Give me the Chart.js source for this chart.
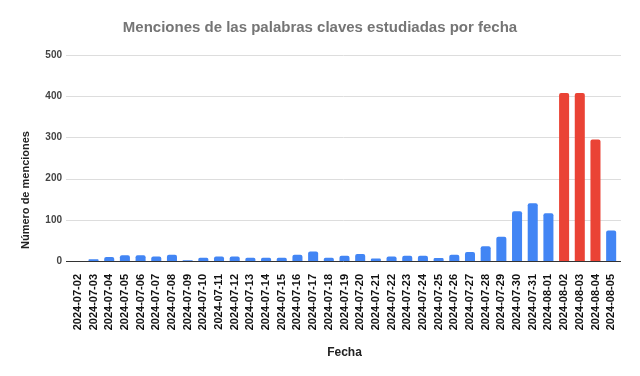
<!DOCTYPE html>
<html>
<head>
<meta charset="utf-8">
<script src="https://cdn.jsdelivr.net/npm/chart.js@4"></script>
<style>
html,body{margin:0;padding:0;background:#fff;}
#wrap{width:640px;height:376px;}
</style>
</head>
<body>
<div id="wrap"><canvas id="c" width="640" height="376"></canvas></div>
<script>
const categories = ['2024-07-02','2024-07-03','2024-07-04','2024-07-05','2024-07-06','2024-07-07','2024-07-08','2024-07-09','2024-07-10','2024-07-11','2024-07-12','2024-07-13','2024-07-14','2024-07-15','2024-07-16','2024-07-17','2024-07-18','2024-07-19','2024-07-20','2024-07-21','2024-07-22','2024-07-23','2024-07-24','2024-07-25','2024-07-26','2024-07-27','2024-07-28','2024-07-29','2024-07-30','2024-07-31','2024-08-01','2024-08-02','2024-08-03','2024-08-04','2024-08-05'];
const menciones = [0,4,10,14,14,11,15,2,8,11,11,8,8,8,15,23,8,13,17,6,11,13,13,7,15,22,36,59,121,140,116,408,408,295,74];
const highlighted = ['2024-08-02','2024-08-03','2024-08-04'];
const yTicks = [0,100,200,300,400,500];

const BLUE = '#4285F4', RED = '#EA4335';
const FONT = "'Liberation Sans', Arial, sans-serif";
const GRID_LEFT = 66, GRID_RIGHT = 621;

const yTitlePlugin = {
  id: 'yTitle',
  afterDraw(chart) {
    const ctx = chart.ctx;
    ctx.save();
    ctx.translate(26, 190);
    ctx.rotate(-Math.PI / 2);
    ctx.font = 'bold 11px ' + FONT;
    ctx.fillStyle = '#222';
    ctx.textAlign = 'center';
    ctx.textBaseline = 'middle';
    ctx.fillText('Número de menciones', 0, 0);
    ctx.restore();
  }
};

const gridPlugin = {
  id: 'wideGrid',
  beforeDatasetsDraw(chart) {
    const ctx = chart.ctx, y = chart.scales.y;
    ctx.save();
    ctx.lineWidth = 1;
    y.ticks.forEach(t => {
      if (t.value === 0) return;
      const py = Math.round(y.getPixelForValue(t.value)) + 0.5;
      ctx.strokeStyle = '#dddddd';
      ctx.beginPath(); ctx.moveTo(GRID_LEFT, py); ctx.lineTo(GRID_RIGHT, py); ctx.stroke();
    });
    ctx.restore();
  },
  afterDatasetsDraw(chart) {
    const ctx = chart.ctx, y = chart.scales.y;
    const py = Math.round(y.getPixelForValue(0)) + 0.5;
    ctx.save();
    ctx.strokeStyle = '#333';
    ctx.lineWidth = 1;
    ctx.beginPath(); ctx.moveTo(GRID_LEFT, py); ctx.lineTo(GRID_RIGHT, py); ctx.stroke();
    ctx.restore();
  }
};

new Chart(document.getElementById('c'), {
  type: 'bar',
  data: {
    labels: categories,
    datasets: [{
      data: menciones,
      backgroundColor: categories.map(c => highlighted.includes(c) ? RED : BLUE),
      barPercentage: 0.64,
      categoryPercentage: 1.0,
      borderRadius: {topLeft: 2, topRight: 2, bottomLeft: 0, bottomRight: 0},
      borderSkipped: 'bottom'
    }]
  },
  options: {
    responsive: false,
    animation: false,
    devicePixelRatio: 1,
    layout: {padding: {left: 0, right: 0, top: 0, bottom: 16}},
    plugins: {
      legend: {display: false},
      tooltip: {enabled: false},
      title: {
        display: true,
        text: 'Menciones de las palabras claves estudiadas por fecha',
        color: '#757575',
        font: {family: FONT, size: 15, weight: 'bold'},
        padding: {top: 19, bottom: 18}
      }
    },
    scales: {
      x: {
        afterFit(scale) { scale.height = 99; },
        grid: {display: false},
        border: {display: false},
        ticks: {
          color: '#111',
          font: {family: FONT, size: 11, weight: 'bold'},
          minRotation: 90, maxRotation: 90,
          autoSkip: false,
          padding: 5
        },
        title: {
          display: true,
          text: 'Fecha',
          color: '#222',
          font: {family: FONT, size: 12, weight: 'bold'},
          padding: {top: 0, bottom: 0}
        }
      },
      y: {
        min: 0, max: 500,
        afterBuildTicks(scale) { scale.ticks = yTicks.map(v => ({value: v})); },
        afterFit(scale) { scale.width = 70; },
        grid: {display: false, drawTicks: false},
        border: {display: false},
        ticks: {
          color: '#444',
          font: {family: FONT, size: 10, weight: 'bold'},
          padding: 8
        }
      },
      spacer: {
        position: 'right',
        display: true,
        min: 0, max: 500,
        afterFit(scale) { scale.width = 21; },
        grid: {display: false, drawOnChartArea: false},
        border: {display: false},
        ticks: {display: false}
      }
    }
  },
  plugins: [gridPlugin, yTitlePlugin]
});
</script>
</body>
</html>
